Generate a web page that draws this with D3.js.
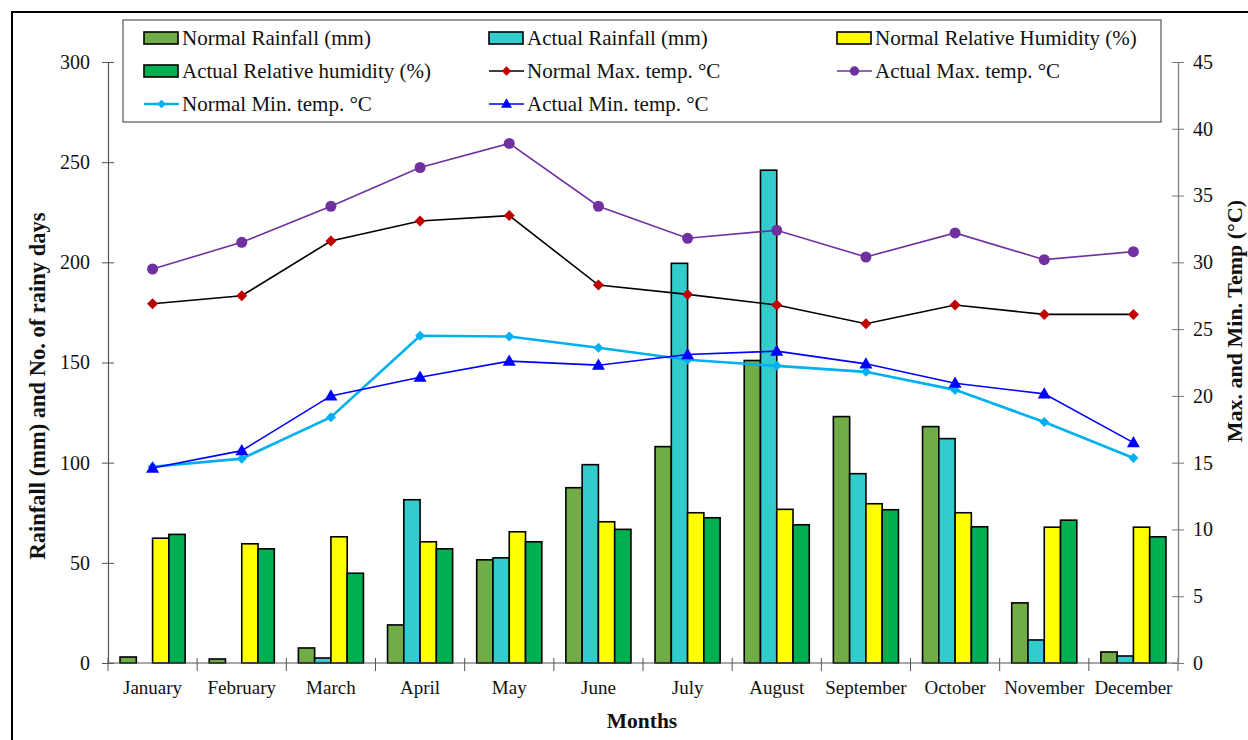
<!DOCTYPE html>
<html>
<head>
<meta charset="utf-8">
<script src="https://cdn.jsdelivr.net/npm/d3@7"></script>
<style>
html,body{margin:0;padding:0;background:#fff;}
svg{display:block;}
text{font-family:"Liberation Serif","Times New Roman",serif;fill:#111;}
</style>
</head>
<body>
<svg id="chart" width="1248" height="740"></svg>
<script>
const months = ["January","February","March","April","May","June","July","August","September","October","November","December"];
const normalRain = [3, 2, 7.5, 19, 51.5, 87.5, 108, 151, 123, 118, 30, 5.5];
const actualRain = [0, 0, 2.5, 81.5, 52.5, 99, 199.5, 246, 94.5, 112, 11.5, 3.5];
const normalRH = [62.3, 59.5, 63, 60.5, 65.5, 70.5, 75, 76.7, 79.5, 75, 67.8, 67.8];
const actualRH = [64.2, 57, 44.8, 57, 60.5, 66.7, 72.5, 69, 76.5, 68, 71.3, 63];
const normalMax = [26.9, 27.5, 31.6, 33.1, 33.5, 28.3, 27.6, 26.8, 25.4, 26.8, 26.1, 26.1];
const actualMax = [29.5, 31.5, 34.2, 37.1, 38.9, 34.2, 31.8, 32.4, 30.4, 32.2, 30.2, 30.8];
const normalMin = [14.7, 15.3, 18.4, 24.5, 24.45, 23.6, 22.7, 22.25, 21.8, 20.45, 18.05, 15.35];
const actualMin = [14.6, 15.9, 20.0, 21.4, 22.6, 22.3, 23.1, 23.35, 22.4, 20.95, 20.15, 16.5];
const leftTicks = [0, 50, 100, 150, 200, 250, 300];
const rightTicks = [0, 5, 10, 15, 20, 25, 30, 35, 40, 45];

const barSeries = [
  {name:"Normal Rainfall (mm)", values:normalRain, color:"#70AD47"},
  {name:"Actual Rainfall (mm)", values:actualRain, color:"#33CCCC"},
  {name:"Normal Relative Humidity (%)", values:normalRH, color:"#FFFF00"},
  {name:"Actual Relative humidity (%)", values:actualRH, color:"#00B050"}
];
const lineSeries = [
  {name:"Normal Max. temp. °C", values:normalMax, color:"#000000", mcolor:"#C00000", marker:"diamond", width:1.6, msize:11},
  {name:"Actual Max. temp. °C", values:actualMax, color:"#7030A0", mcolor:"#7030A0", marker:"circle", width:1.6, msize:11},
  {name:"Normal Min. temp. °C", values:normalMin, color:"#00B0F0", mcolor:"#00B0F0", marker:"diamond", width:2.6, msize:10},
  {name:"Actual Min. temp. °C", values:actualMin, color:"#0000FF", mcolor:"#0000FF", marker:"triangle", width:1.6, msize:13}
];

// square diamond (Excel style); size = full diagonal in px
const sqDiamond = { draw(ctx, s) { const r = s / 2; ctx.moveTo(0,-r); ctx.lineTo(r,0); ctx.lineTo(0,r); ctx.lineTo(-r,0); ctx.closePath(); } };
const circ = { draw(ctx, s) { const r = s / 2; ctx.moveTo(r,0); ctx.arc(0,0,r,0,2*Math.PI); } };
const tri = { draw(ctx, s) { const h = s * 0.87; ctx.moveTo(0,-h/2-1); ctx.lineTo(s/2,h/2-1); ctx.lineTo(-s/2,h/2-1); ctx.closePath(); } };
const symType = {diamond:sqDiamond, circle:circ, triangle:tri};

const svg = d3.select("#chart");
const L = 108, R = 1178, T = 62, B = 663;

// outer border
svg.append("rect").attr("x",12).attr("y",12).attr("width",1260).attr("height",760)
  .attr("fill","none").attr("stroke","#000").attr("stroke-width",2);

const x0 = d3.scaleBand().domain(months).range([L, R]).padding(0);
const bw = x0.bandwidth();
const gw = bw * 0.73;
const x1 = d3.scaleBand().domain(barSeries.map(d=>d.name)).range([0, gw]).padding(0);
const yL = d3.scaleLinear().domain([0, 300]).range([B, T]);
const yR = d3.scaleLinear().domain([0, 45]).range([B, T]);

// bars
barSeries.forEach(s => {
  svg.append("g").selectAll("rect").data(s.values).join("rect")
    .attr("x", (d,i) => x0(months[i]) + (bw-gw)/2 + x1(s.name))
    .attr("y", d => yL(d))
    .attr("width", x1.bandwidth())
    .attr("height", d => B - yL(d))
    .attr("fill", s.color).attr("stroke", d => d > 0 ? "#000" : "none").attr("stroke-width", 1.6);
});

// x axis
const xAxis = svg.append("g");
xAxis.append("line").attr("x1",L).attr("x2",R).attr("y1",B).attr("y2",B).attr("stroke","#555").attr("stroke-width",1.2);
const bounds = months.map(m => x0(m)).concat([R]);
xAxis.selectAll("line.t").data(bounds).join("line").attr("class","t")
  .attr("x1",d=>d).attr("x2",d=>d).attr("y1",B-5).attr("y2",B+8).attr("stroke","#555").attr("stroke-width",1);
xAxis.selectAll("text").data(months).join("text")
  .attr("x", d => x0(d) + bw/2).attr("y", 694).attr("text-anchor","middle")
  .style("font-size","19px").text(d=>d);

// left axis
const la = svg.append("g").attr("transform",`translate(${L},0)`)
  .call(d3.axisLeft(yL).tickValues(leftTicks).tickSize(6).tickSizeOuter(0).tickPadding(12));
la.attr("font-family", null);
la.select(".domain").attr("stroke","#555").attr("stroke-width",1.2);
la.selectAll(".tick line").attr("stroke","#555").attr("x2",-6).attr("x1",6);
la.selectAll(".tick text").style("font-size","20px").attr("fill","#111").attr("x",-18);

// right axis
const ra = svg.append("g").attr("transform",`translate(${R},0)`)
  .call(d3.axisRight(yR).tickValues(rightTicks).tickSize(6).tickSizeOuter(0).tickPadding(12));
ra.attr("font-family", null);
ra.select(".domain").attr("stroke","#888").attr("stroke-width",1.4);
ra.selectAll(".tick line").attr("stroke","#777").attr("x1",-6).attr("x2",6);
ra.selectAll(".tick text").style("font-size","20px").attr("fill","#111").attr("x",15);

// axis titles
svg.append("text").attr("transform","translate(45,386) rotate(-90)").attr("text-anchor","middle")
  .style("font-size","22.5px").style("font-weight","bold").text("Rainfall (mm) and No. of rainy days");
svg.append("text").attr("transform","translate(1242,321) rotate(-90)").attr("text-anchor","middle")
  .style("font-size","22px").style("font-weight","bold").text("Max. and Min. Temp (°C)");
svg.append("text").attr("x",642).attr("y",728).attr("text-anchor","middle")
  .style("font-size","21.5px").style("font-weight","bold").text("Months");

// lines
lineSeries.forEach(s => {
  const line = d3.line().x((d,i)=>x0(months[i])+bw/2).y(d=>yR(d));
  svg.append("path").datum(s.values).attr("d",line).attr("fill","none")
    .attr("stroke",s.color).attr("stroke-width",s.width);
  svg.append("g").selectAll("path").data(s.values).join("path")
    .attr("transform",(d,i)=>`translate(${x0(months[i])+bw/2},${yR(d)})`)
    .attr("d", d3.symbol().type(symType[s.marker]).size(s.msize))
    .attr("fill", s.mcolor);
});

// legend
const lg = svg.append("g");
lg.append("rect").attr("x",123).attr("y",20).attr("width",1038).attr("height",102)
  .attr("fill","#fff").attr("stroke","#555").attr("stroke-width",1.2);
const legendItems = [
  {s:barSeries[0], type:"bar"}, {s:barSeries[1], type:"bar"}, {s:barSeries[2], type:"bar"},
  {s:barSeries[3], type:"bar"}, {s:lineSeries[0], type:"line"}, {s:lineSeries[1], type:"line"},
  {s:lineSeries[2], type:"line"}, {s:lineSeries[3], type:"line"}
];
const colX = [144, 489, 837];
const rowY = [38, 71, 104];
legendItems.forEach((it, k) => {
  const cx = colX[k % 3], cy = rowY[Math.floor(k / 3)];
  if (it.type === "bar") {
    lg.append("rect").attr("x",cx).attr("y",cy-6).attr("width",34).attr("height",12)
      .attr("fill",it.s.color).attr("stroke","#000").attr("stroke-width",1.6);
  } else {
    lg.append("line").attr("x1",cx).attr("x2",cx+35).attr("y1",cy).attr("y2",cy)
      .attr("stroke",it.s.color).attr("stroke-width",it.s.width);
    lg.append("path").attr("transform",`translate(${cx+17.5},${cy})`)
      .attr("d", d3.symbol().type(symType[it.s.marker]).size(it.s.msize*0.85)).attr("fill",it.s.mcolor);
  }
  lg.append("text").attr("x",cx+38).attr("y",cy+7).style("font-size","21px").text(it.s.name);
});
</script>
</body>
</html>
